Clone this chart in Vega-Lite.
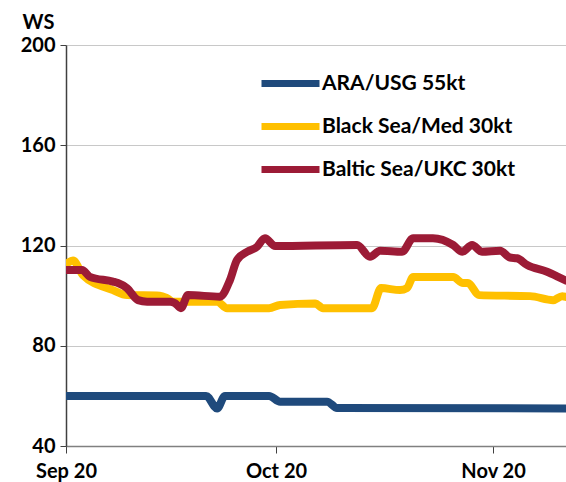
{
  "$schema": "https://vega.github.io/schema/vega-lite/v6.json",
  "width": 500,
  "height": 401,
  "autosize": "none",
  "padding": {"left": 66, "top": 45, "right": 0, "bottom": 36},
  "background": "white",
  "config": {
    "view": {"stroke": null},
    "font": "Lato",
    "axis": {"labelFont": "Lato", "labelFontWeight": "bold", "labelFontSize": 20, "labelColor": "#000000", "titleFont": "Lato"}
  },
  "data": {"values": [
    {"date": "2020-09-20T00:00", "route": "ARA/USG 55kt", "ws": 60},
    {"date": "2020-10-10T00:00", "route": "ARA/USG 55kt", "ws": 60},
    {"date": "2020-10-11T14:00", "route": "ARA/USG 55kt", "ws": 55},
    {"date": "2020-10-12T17:00", "route": "ARA/USG 55kt", "ws": 60},
    {"date": "2020-10-19T00:00", "route": "ARA/USG 55kt", "ws": 60},
    {"date": "2020-10-20T14:00", "route": "ARA/USG 55kt", "ws": 57.7},
    {"date": "2020-10-27T07:00", "route": "ARA/USG 55kt", "ws": 57.7},
    {"date": "2020-10-28T17:00", "route": "ARA/USG 55kt", "ws": 55.2},
    {"date": "2020-11-30T10:00", "route": "ARA/USG 55kt", "ws": 55},

    {"date": "2020-09-20T00:00", "route": "Black Sea/Med 30kt", "ws": 112.5},
    {"date": "2020-09-21T00:00", "route": "Black Sea/Med 30kt", "ws": 114},
    {"date": "2020-09-22T10:00", "route": "Black Sea/Med 30kt", "ws": 108.2},
    {"date": "2020-09-26T17:00", "route": "Black Sea/Med 30kt", "ws": 102.2},
    {"date": "2020-09-28T17:00", "route": "Black Sea/Med 30kt", "ws": 100.2},
    {"date": "2020-10-03T10:00", "route": "Black Sea/Med 30kt", "ws": 100},
    {"date": "2020-10-04T10:00", "route": "Black Sea/Med 30kt", "ws": 99},
    {"date": "2020-10-05T07:00", "route": "Black Sea/Med 30kt", "ws": 97.6},
    {"date": "2020-10-11T14:00", "route": "Black Sea/Med 30kt", "ws": 97.6},
    {"date": "2020-10-13T00:00", "route": "Black Sea/Med 30kt", "ws": 95},
    {"date": "2020-10-19T00:00", "route": "Black Sea/Med 30kt", "ws": 95},
    {"date": "2020-10-20T14:00", "route": "Black Sea/Med 30kt", "ws": 96.3},
    {"date": "2020-10-25T14:00", "route": "Black Sea/Med 30kt", "ws": 96.9},
    {"date": "2020-10-26T17:00", "route": "Black Sea/Med 30kt", "ws": 95},
    {"date": "2020-11-02T17:00", "route": "Black Sea/Med 30kt", "ws": 95},
    {"date": "2020-11-04T00:00", "route": "Black Sea/Med 30kt", "ws": 103},
    {"date": "2020-11-06T17:00", "route": "Black Sea/Med 30kt", "ws": 102.2},
    {"date": "2020-11-07T17:00", "route": "Black Sea/Med 30kt", "ws": 103},
    {"date": "2020-11-08T14:00", "route": "Black Sea/Med 30kt", "ws": 107.4},
    {"date": "2020-11-14T07:00", "route": "Black Sea/Med 30kt", "ws": 107.4},
    {"date": "2020-11-15T17:00", "route": "Black Sea/Med 30kt", "ws": 105},
    {"date": "2020-11-16T10:00", "route": "Black Sea/Med 30kt", "ws": 105},
    {"date": "2020-11-18T00:00", "route": "Black Sea/Med 30kt", "ws": 100.2},
    {"date": "2020-11-25T07:00", "route": "Black Sea/Med 30kt", "ws": 99.8},
    {"date": "2020-11-28T14:00", "route": "Black Sea/Med 30kt", "ws": 98.2},
    {"date": "2020-11-29T21:00", "route": "Black Sea/Med 30kt", "ws": 99.8},
    {"date": "2020-11-30T10:00", "route": "Black Sea/Med 30kt", "ws": 99.5},

    {"date": "2020-09-20T00:00", "route": "Baltic Sea/UKC 30kt", "ws": 110.2},
    {"date": "2020-09-22T07:00", "route": "Baltic Sea/UKC 30kt", "ws": 110.2},
    {"date": "2020-09-23T10:00", "route": "Baltic Sea/UKC 30kt", "ws": 107.5},
    {"date": "2020-09-26T17:00", "route": "Baltic Sea/UKC 30kt", "ws": 105.6},
    {"date": "2020-09-27T10:00", "route": "Baltic Sea/UKC 30kt", "ws": 105},
    {"date": "2020-09-28T17:00", "route": "Baltic Sea/UKC 30kt", "ws": 103},
    {"date": "2020-09-30T07:00", "route": "Baltic Sea/UKC 30kt", "ws": 98.2},
    {"date": "2020-10-01T14:00", "route": "Baltic Sea/UKC 30kt", "ws": 97.6},
    {"date": "2020-10-04T21:00", "route": "Baltic Sea/UKC 30kt", "ws": 97.6},
    {"date": "2020-10-05T14:00", "route": "Baltic Sea/UKC 30kt", "ws": 97},
    {"date": "2020-10-06T10:00", "route": "Baltic Sea/UKC 30kt", "ws": 95},
    {"date": "2020-10-07T10:00", "route": "Baltic Sea/UKC 30kt", "ws": 100.2},
    {"date": "2020-10-12T00:00", "route": "Baltic Sea/UKC 30kt", "ws": 99.6},
    {"date": "2020-10-13T10:00", "route": "Baltic Sea/UKC 30kt", "ws": 106.2},
    {"date": "2020-10-14T10:00", "route": "Baltic Sea/UKC 30kt", "ws": 114.2},
    {"date": "2020-10-15T21:00", "route": "Baltic Sea/UKC 30kt", "ws": 117.5},
    {"date": "2020-10-17T07:00", "route": "Baltic Sea/UKC 30kt", "ws": 119.5},
    {"date": "2020-10-18T10:00", "route": "Baltic Sea/UKC 30kt", "ws": 122.9},
    {"date": "2020-10-19T21:00", "route": "Baltic Sea/UKC 30kt", "ws": 119.8},
    {"date": "2020-10-31T14:00", "route": "Baltic Sea/UKC 30kt", "ws": 120.2},
    {"date": "2020-11-02T10:00", "route": "Baltic Sea/UKC 30kt", "ws": 115.5},
    {"date": "2020-11-03T21:00", "route": "Baltic Sea/UKC 30kt", "ws": 117.9},
    {"date": "2020-11-07T00:00", "route": "Baltic Sea/UKC 30kt", "ws": 117.5},
    {"date": "2020-11-08T14:00", "route": "Baltic Sea/UKC 30kt", "ws": 122.9},
    {"date": "2020-11-11T10:00", "route": "Baltic Sea/UKC 30kt", "ws": 122.9},
    {"date": "2020-11-14T07:00", "route": "Baltic Sea/UKC 30kt", "ws": 120.2},
    {"date": "2020-11-15T14:00", "route": "Baltic Sea/UKC 30kt", "ws": 117.5},
    {"date": "2020-11-17T00:00", "route": "Baltic Sea/UKC 30kt", "ws": 120.2},
    {"date": "2020-11-18T10:00", "route": "Baltic Sea/UKC 30kt", "ws": 117.5},
    {"date": "2020-11-21T00:00", "route": "Baltic Sea/UKC 30kt", "ws": 117.9},
    {"date": "2020-11-22T10:00", "route": "Baltic Sea/UKC 30kt", "ws": 115.2},
    {"date": "2020-11-23T10:00", "route": "Baltic Sea/UKC 30kt", "ws": 114.9},
    {"date": "2020-11-24T21:00", "route": "Baltic Sea/UKC 30kt", "ws": 112.2},
    {"date": "2020-11-27T17:00", "route": "Baltic Sea/UKC 30kt", "ws": 109.5},
    {"date": "2020-11-29T07:00", "route": "Baltic Sea/UKC 30kt", "ws": 107.5},
    {"date": "2020-11-30T10:00", "route": "Baltic Sea/UKC 30kt", "ws": 106}
  ]},
  "mark": {"type": "line", "strokeWidth": 8, "strokeCap": "round", "strokeJoin": "round", "interpolate": "monotone", "clip": true},
  "encoding": {
    "x": {
      "field": "date", "type": "temporal",
      "scale": {"domain": [{"year": 2020, "month": 9, "date": 20}, {"year": 2020, "month": 11, "date": 30, "hours": 10}]},
      "axis": {
        "title": null, "format": "%b %d", "grid": false,
        "values": [{"year": 2020, "month": 9, "date": 20}, {"year": 2020, "month": 10, "date": 20}, {"year": 2020, "month": 11, "date": 20}],
        "domainColor": "#808080", "domainWidth": 1.5, "tickColor": "#404040", "tickSize": 7, "tickWidth": 1,
        "labelPadding": 8, "labelFlush": false
      }
    },
    "y": {
      "field": "ws", "type": "quantitative",
      "scale": {"domain": [40, 200], "nice": false, "zero": false},
      "axis": {
        "values": [40, 80, 120, 160, 200], "grid": true, "gridColor": "#c8c8c8", "gridWidth": 1,
        "domainColor": "#404040", "domainWidth": 1.5, "tickColor": "#404040", "tickSize": 6, "tickWidth": 1,
        "labelPadding": 5,
        "title": "WS", "titleAngle": 0, "titleAlign": "center", "titleBaseline": "alphabetic",
        "titleX": -28, "titleY": -17, "titleFontSize": 20, "titleFontWeight": "bold", "titleColor": "#000000"
      }
    },
    "color": {
      "field": "route", "type": "nominal",
      "scale": {"domain": ["ARA/USG 55kt", "Black Sea/Med 30kt", "Baltic Sea/UKC 30kt"], "range": ["#1F4A7C", "#FFC000", "#9C1B36"]},
      "legend": {
        "title": null, "orient": "none", "legendX": 196, "legendY": 10,
        "symbolType": "M-1.16,0H1.16", "symbolSize": 2500, "symbolStrokeWidth": 7, "symbolStrokeCap": "round",
        "labelFont": "Lato", "labelFontSize": 21, "labelFontWeight": "bold", "labelColor": "#000000",
        "labelOffset": 3, "rowPadding": 0, "labelLimit": 400
      }
    }
  }
}
